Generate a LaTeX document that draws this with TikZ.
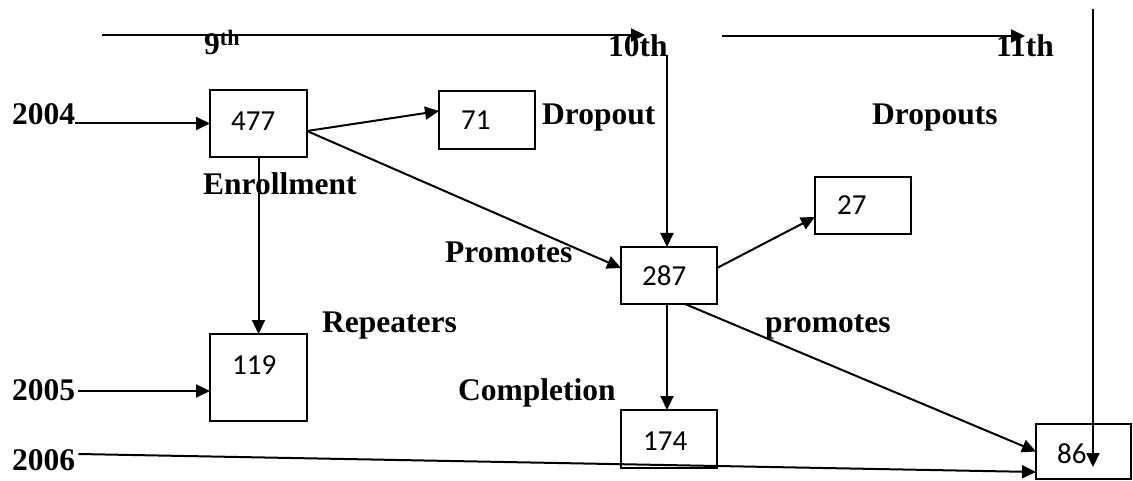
\documentclass[tikz,border=0pt]{standalone}
\usepackage{fontspec}
\setmainfont{Liberation Serif}
\newfontfamily\numfont{Carlito}
\usetikzlibrary{arrows.meta}
\tikzset{
  lbl/.style={font=\bfseries\fontsize{31.5}{36}\selectfont, inner sep=0pt, anchor=base west},
  num/.style={font=\numfont\fontsize{29}{34}\selectfont, inner sep=0pt, anchor=base west},
  box/.style={draw, line width=1.6pt, minimum width=#1, inner sep=0pt, outer sep=0pt},
  conn/.style={line width=2pt, -{Triangle[length=14pt,width=13pt]}},
  plain/.style={line width=2pt}
}
\begin{document}
\begin{tikzpicture}[x=1pt,y=-1pt]
\useasboundingbox (0,0) rectangle (1133,481);
% boxes
\node[box=97pt, minimum height=67pt] (b477) at (258.5,123.5) {};
\node[box=96pt, minimum height=58pt] (b71) at (487,120) {};
\node[box=97pt, minimum height=87pt] (b119) at (258.5,377.5) {};
\node[box=96pt, minimum height=57pt] (b287) at (669,275.5) {};
\node[box=96pt, minimum height=57pt] (b27) at (863,205.5) {};
\node[box=96pt, minimum height=58pt] (b174) at (669,439) {};
\node[box=95pt, minimum height=55pt] (b86) at (1083.5,451.5) {};
% numbers
\node[num] (n477) at (231,131) {477};
\node[num] (n71) at (461,130) {71};
\node[num] (n119) at (232,374) {119};
\node[num] (n287) at (642,286) {287};
\node[num] (n27) at (837,215) {27};
\node[num] (n174) at (643,450) {174};
\node[num] (n86) at (1057,463) {86};
% labels
\node[lbl] (y2004) at (12,125) {2004};
\node[lbl] (y2005) at (12,400) {2005};
\node[lbl] (y2006) at (12,470) {2006};
\node[lbl] (g9) at (204,55) {9\textsuperscript{th}};
\node[lbl] (g10) at (608,57) {10th};
\node[lbl] (g11) at (996,57) {11th};
\node[lbl] (ldrop) at (542,125) {Dropout};
\node[lbl] (ldrops) at (872,125) {Dropouts};
\node[lbl] (lenr) at (203,195) {Enrollment};
\node[lbl] (lprom) at (445,262) {Promotes};
\node[lbl] (lrep) at (322,332) {Repeaters};
\node[lbl] (lcomp) at (458,400) {Completion};
\node[lbl] (lprom2) at (765,332) {promotes};
% free ends
\coordinate (t1s) at (102,35);
\coordinate (t1e) at (645,35);
\coordinate (t2s) at (722,36);
\coordinate (t2e) at (1025,36);
\coordinate (v10s) at (667,55);
\coordinate (v11s) at (1093,9);
\coordinate (v11e) at (1093,467);
% connectors
\draw[conn] (t1s) -- (t1e);
\draw[conn] (t2s) -- (t2e);
\draw[conn] (v10s) -- (v10s |- b287.north);
\draw[conn] (v11s) -- (v11e);
\draw[conn] (y2004.east |- b477.west) -- (b477.west);
\draw[conn] ([yshift=-7.5pt]b477.east) -- ([yshift=9pt]b71.west);
\draw[conn] ([yshift=-7.5pt]b477.east) -- ([yshift=7.5pt]b287.west);
\draw[conn] (b477.south) -- (b119.north);
\draw[conn] ([xshift=3pt,yshift=-13.5pt]y2005.east |- b119.west) -- ([yshift=-13.5pt]b119.west);
\draw[conn] ([xshift=3pt]y2006.east |- 0,454) -- (b86.west |- 0,472);
\draw[conn] ([yshift=7.5pt]b287.east) -- ([yshift=-11.5pt]b27.west);
\draw[conn] (v10s |- b287.south) -- (v10s |- b174.north);
\draw[conn] ([xshift=16pt]b287.south) -- (b86.west);
\end{tikzpicture}
\end{document}
